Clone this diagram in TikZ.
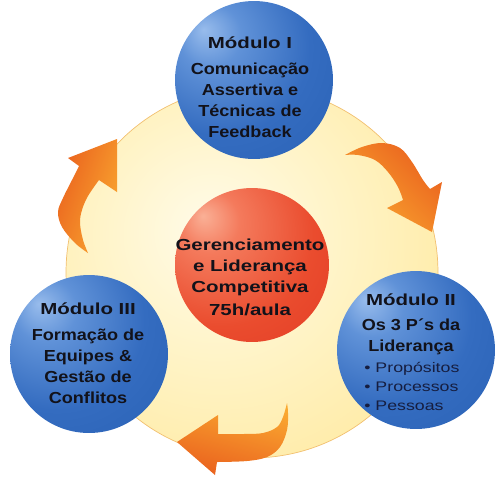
\documentclass[tikz,border=0pt]{standalone}
\usepackage{fontspec}
\setmainfont{Liberation Sans}
\newfontfamily\widefont{Liberation Sans}[FakeStretch=1.28]
\newfontfamily\bodyfont{Liberation Sans}[FakeStretch=1.13]

\definecolor{blueHi}{RGB}{152,188,236}
\definecolor{blueLt}{RGB}{96,146,216}
\definecolor{blueMid}{RGB}{52,108,192}
\definecolor{blueMidb}{RGB}{40,96,180}
\definecolor{blueDk}{RGB}{30,76,160}
\definecolor{redHi}{RGB}{250,176,150}
\definecolor{redLt}{RGB}{244,122,92}
\definecolor{redMid}{RGB}{234,76,46}
\definecolor{redMidb}{RGB}{226,58,36}
\definecolor{redDk}{RGB}{200,40,28}
\definecolor{hubIn}{RGB}{255,251,232}
\definecolor{hubMid}{RGB}{255,242,192}
\definecolor{hubOut}{RGB}{255,230,148}
\definecolor{hubRim}{RGB}{253,218,122}
\definecolor{hubLine}{RGB}{242,192,112}
\definecolor{orDark}{RGB}{234,98,30}
\definecolor{orLight}{RGB}{250,168,48}
\definecolor{txtDark}{RGB}{18,18,26}
\definecolor{bulletDark}{RGB}{22,30,64}

\pgfdeclareradialshading{bluesphere}{\pgfpoint{-16bp}{16bp}}{color(0bp)=(blueHi); color(10bp)=(blueLt); color(28bp)=(blueMid); color(50bp)=(blueMidb); color(66bp)=(blueDk); color(80bp)=(blueDk)}
\pgfdeclareradialshading{redsphere}{\pgfpoint{-16bp}{16bp}}{color(0bp)=(redHi); color(10bp)=(redLt); color(30bp)=(redMid); color(50bp)=(redMidb); color(66bp)=(redDk); color(80bp)=(redDk)}
\pgfdeclareradialshading{hubglow}{\pgfpoint{-6bp}{6bp}}{color(0bp)=(hubIn); color(20bp)=(hubMid); color(42bp)=(hubOut); color(54bp)=(hubRim); color(80bp)=(hubRim)}

\begin{document}
\begin{tikzpicture}[x=0.02cm,y=-0.02cm,
  module node/.style={circle,draw=none,shade,shading=bluesphere,minimum size=3.16cm,inner sep=0pt},
  core node/.style={circle,draw=none,shade,shading=redsphere,minimum size=3.08cm,inner sep=0pt},
  hub node/.style={circle,draw=hubLine,line width=0.4pt,shade,shading=hubglow,minimum size=7.44cm,inner sep=0pt},
  label node/.style={align=center,inner sep=0pt,text=txtDark,font=\fontsize{9.1}{11.9}\selectfont\bodyfont\bfseries},
  bullet node/.style={align=left,inner sep=0pt,text=bulletDark,font=\fontsize{7.9}{10.8}\selectfont\widefont},
  arrow fill/.style={top color=orDark,bottom color=orLight}]
  \useasboundingbox (0,0) rectangle (500,481);

  \node[hub node] (hub) at (252,272) {};

  % curved arrows between the modules
  \shade[arrow fill,shading angle=-45]
    plot[smooth,tension=0.6] coordinates {(345,155) (362,147) (382,143) (400,148) (412,162) (423,180) (430,189)}
    -- (442,182) -- (432,232) -- (387,208) -- (403,200)
    -- plot[smooth,tension=0.6] coordinates {(403,200) (398,187) (388,172) (375,160) (358,155) (345,155)} -- cycle;
  \shade[arrow fill,shading angle=165]
    plot[smooth,tension=0.6] coordinates {(287,403) (283,417) (277,427) (263,433) (243,434) (218,434)}
    -- (218,415) -- (177,442) -- (215,475) -- (217,462)
    -- plot[smooth,tension=0.6] coordinates {(217,462) (247,461) (267,457) (280,447) (287,430) (288,413) (287,403)} -- cycle;
  \shade[arrow fill,shading angle=70]
    plot[smooth,tension=0.6] coordinates {(88,253) (75,243) (62,227) (58,212) (63,198) (72,180) (79,166)}
    -- (68,158) -- (117,139) -- (117,192) -- (99,180)
    -- plot[smooth,tension=0.6] coordinates {(99,180) (88,196) (82,210) (80,223) (83,240) (88,253)} -- cycle;

  \node[core node] (core) at (252,265) {};
  \node[module node] (mod1) at (254,80) {};
  \node[module node] (mod2) at (416,350) {};
  \node[module node] (mod3) at (89,354) {};

  \node[label node,anchor=north] (mod1 text) at (250,36)
    {{\widefont Módulo I}\\[3.3pt] Comunicação\\Assertiva e\\Técnicas de\\Feedback};
  \node[label node,anchor=north] (mod2 text) at (411,293)
    {{\widefont Módulo II}\\[2.6pt] Os 3 P´s da\\Liderança};
  \node[bullet node,anchor=north west] (mod2 list) at (364,362)
    {• Propósitos\\• Processos\\• Pessoas};
  \node[label node,anchor=north] (mod3 text) at (88,302)
    {{\widefont Módulo III}\\[3.3pt] Formação de\\Equipes \&\\Gestão de\\Conflitos};
  \node[label node,anchor=north,font=\fontsize{9.1}{11.9}\selectfont\widefont\bfseries] (core text) at (250,239)
    {Gerenciamento\\e Liderança\\Competitiva\\[1.2pt]75h/aula};
\end{tikzpicture}
\end{document}
